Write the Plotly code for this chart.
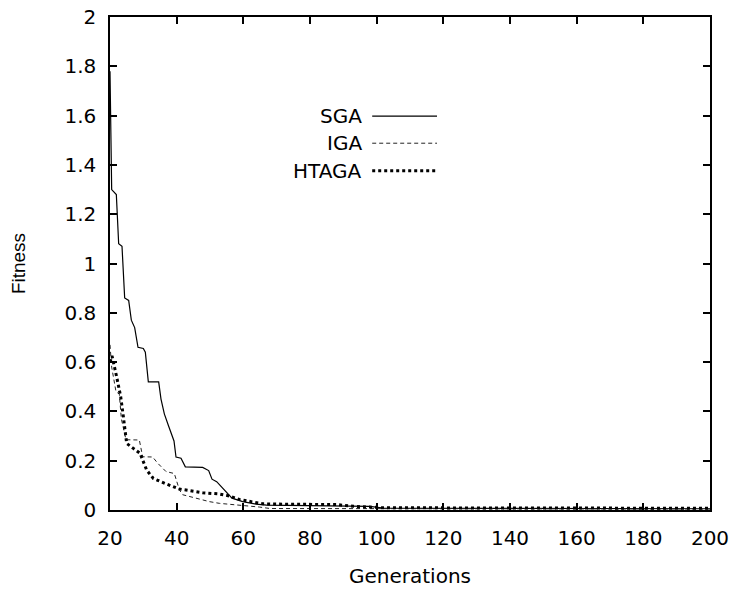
import plotly.graph_objects as go

# Best fitness per generation for the three genetic algorithm variants
sga_gen = [20.0, 20.5, 21.9, 22.6, 23.6, 24.4, 25.6, 26.4, 27.4, 28.4, 30.0, 30.6,
           31.5, 34.6, 35.3, 36.3, 37.6, 39.2, 39.8, 41.3, 42.6, 47.8, 49.6, 50.6,
           52.0, 54.3, 56.6, 59.8, 63.8, 67.0, 75.0, 98.0, 102.0, 140.0, 200.0]
sga_fit = [1.78, 1.30, 1.28, 1.08, 1.07, 0.86, 0.85, 0.77, 0.74, 0.66, 0.655, 0.64,
           0.52, 0.52, 0.45, 0.39, 0.34, 0.28, 0.215, 0.21, 0.175, 0.173, 0.16, 0.125,
           0.115, 0.082, 0.048, 0.034, 0.024, 0.02, 0.018, 0.015, 0.008, 0.006, 0.005]

iga_gen = [20.0, 20.5, 21.8, 22.8, 23.4, 24.8, 28.8, 29.8, 32.8, 34.3, 36.8, 39.3,
           40.8, 41.8, 45.8, 49.8, 52.8, 59.8, 64.8, 68.0, 100.0, 200.0]
iga_fit = [0.67, 0.58, 0.48, 0.47, 0.37, 0.285, 0.284, 0.216, 0.215, 0.19, 0.156, 0.148,
           0.082, 0.062, 0.048, 0.034, 0.027, 0.02, 0.012, 0.006, 0.005, 0.004]

htaga_gen = [20.0, 20.6, 22.0, 23.2, 24.0, 25.0, 27.0, 29.0, 31.0, 33.0, 37.0, 40.8,
             43.8, 47.8, 52.8, 55.8, 58.8, 61.8, 65.8, 70.0, 88.0, 93.0, 98.0, 102.0, 200.0]
htaga_fit = [0.60, 0.625, 0.54, 0.46, 0.38, 0.27, 0.25, 0.23, 0.162, 0.128, 0.105, 0.085,
             0.079, 0.07, 0.065, 0.057, 0.043, 0.034, 0.025, 0.024, 0.022, 0.015, 0.012, 0.009, 0.007]

x_ticks = [20, 40, 60, 80, 100, 120, 140, 160, 180, 200]
y_ticks = [0, 0.2, 0.4, 0.6, 0.8, 1, 1.2, 1.4, 1.6, 1.8, 2]
y_tick_text = ["0", "0.2", "0.4", "0.6", "0.8", "1", "1.2", "1.4", "1.6", "1.8", "2"]

series_names = ["SGA", "IGA", "HTAGA"]
styles = [
    dict(color="black", width=1.2, dash="solid"),
    dict(color="#222", width=1, dash="4px,3px"),
    dict(color="black", width=3, dash="dot"),
]

FONT = "DejaVu Sans, Liberation Sans, sans-serif"
SIZE = 20

fig = go.Figure()
for name, gx, gy, st in zip(series_names, [sga_gen, iga_gen, htaga_gen],
                            [sga_fit, iga_fit, htaga_fit], styles):
    fig.add_trace(go.Scatter(x=gx, y=gy, mode="lines", name=name, line=st,
                             showlegend=False))

# Key: label on the left, line sample on the right
key_rows = [0.799, 0.744, 0.688]
for name, yy, st in zip(series_names, key_rows, styles):
    fig.add_annotation(x=0.423, y=yy, xref="paper", yref="paper", text=name,
                       showarrow=False, xanchor="right", yanchor="middle",
                       font=dict(family=FONT, size=SIZE, color="black"))
    fig.add_shape(type="line", xref="paper", yref="paper", x0=0.437, x1=0.545,
                  y0=yy, y1=yy, line=st)

axis_common = dict(
    showline=True, linecolor="black", linewidth=1.5, mirror="allticks",
    ticks="inside", ticklen=7, tickwidth=1.5, tickcolor="black",
    showgrid=False, zeroline=False, automargin=False,
    tickfont=dict(family=FONT, size=SIZE, color="black"),
)

fig.update_xaxes(range=[20, 200], tickvals=x_ticks, ticklabelstandoff=9,
                 title=dict(text="Generations", standoff=20,
                            font=dict(family=FONT, size=SIZE, color="black")),
                 **axis_common)
fig.update_yaxes(range=[0, 2], tickvals=y_ticks, ticktext=y_tick_text,
                 ticklabelstandoff=8,
                 title=dict(text="Fitness", standoff=34,
                            font=dict(family="Liberation Sans, Arial, sans-serif",
                                      size=19, color="black")),
                 **axis_common)

fig.update_layout(
    width=731, height=589,
    margin=dict(l=110, r=21, t=17, b=79),
    plot_bgcolor="white", paper_bgcolor="white",
    showlegend=False,
)

fig.write_html("out.html")
